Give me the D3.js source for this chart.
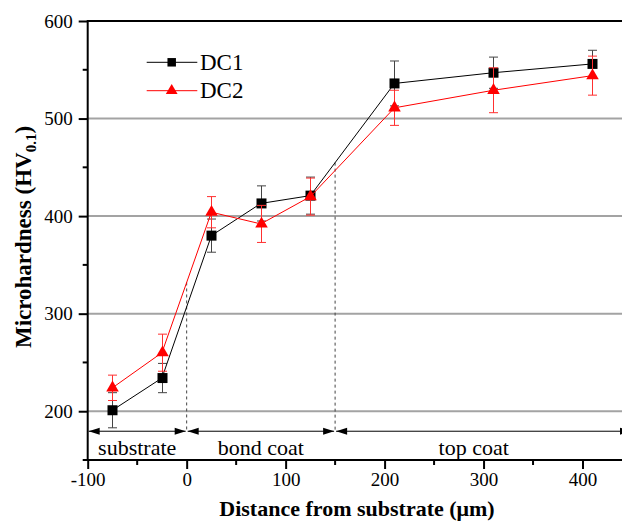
<!DOCTYPE html>
<html>
<head>
<meta charset="utf-8">
<script src="https://cdn.jsdelivr.net/npm/d3@7"></script>
<style>
  html, body { margin: 0; padding: 0; background: #fff; }
  svg { display: block; }
</style>
</head>
<body>
<div id="chart"></div>
<script>
// ---- data ----
const distances = [-75, -25, 25, 75, 125, 210, 310, 410];
const dc1Values = [201, 234, 380, 413, 421, 536, 547, 556];
const dc1Errors = [18, 15, 17, 18, 19, 23, 16, 14];
const dc2Values = [224, 260, 404, 392, 420, 511, 529, 544];
const dc2Errors = [13, 19, 16, 19, 19, 18, 23, 20];
const seriesNames = ["DC1", "DC2"];
const xTickValues = [-100, 0, 100, 200, 300, 400];
const xMinorTicks = [-50, 50, 150, 250, 350, 450];
const yTickValues = [200, 300, 400, 500, 600];
const yMinorTicks = [150, 250, 350, 450, 550];
const gridValues = [200, 300, 400, 500];
const regionNames = ["substrate", "bond coat", "top coat"];
const regionStart = [-100, 0, 150];
const regionEnd = [0, 150, 450];
const regionLabelX = [-50, 75, 290];
const boundaries = [0, 150];
const arrowRowValue = 179.5;

// ---- layout ----
const FONT = "'Liberation Serif', 'Times New Roman', Times, serif";
const W = 622, H = 522;
const x = d3.scaleLinear().domain([-100, 450]).range([87.7, 632]);
const y = d3.scaleLinear().domain([150, 600]).range([460, 21]);

const svg = d3.select("#chart").append("svg").attr("width", W).attr("height", H)
  .style("font-family", FONT);

// gridlines
svg.append("g").selectAll("line").data(gridValues).join("line")
  .attr("x1", x(-100)).attr("x2", x(450))
  .attr("y1", d => y(d)).attr("y2", d => y(d))
  .attr("stroke", "#a3a3a3").attr("stroke-width", 2);

// boundary dashed lines
const s1 = distances.map((d, i) => ({ x: d, y: dc1Values[i] }));
const s2 = distances.map((d, i) => ({ x: d, y: dc2Values[i] }));
function interp(series, xv) {
  for (let i = 0; i < series.length - 1; i++) {
    const a = series[i], b = series[i + 1];
    if (xv >= a.x && xv <= b.x) return a.y + (b.y - a.y) * (xv - a.x) / (b.x - a.x);
  }
  return null;
}
svg.append("g").selectAll("line").data(boundaries).join("line")
  .attr("x1", d => x(d)).attr("x2", d => x(d))
  .attr("y1", d => y(Math.max(interp(s1, d), interp(s2, d))))
  .attr("y2", y(arrowRowValue))
  .attr("stroke", "#444").attr("stroke-width", 1).attr("stroke-dasharray", "3,3");

// region arrows
const arrowG = svg.append("g");
const ay = y(arrowRowValue);
regionNames.forEach((name, i) => {
  const xa = x(regionStart[i]) + 1, xb = x(regionEnd[i]) - 1;
  arrowG.append("line").attr("x1", xa).attr("x2", xb).attr("y1", ay).attr("y2", ay)
    .attr("stroke", "#000").attr("stroke-width", 1);
  arrowG.append("path").attr("d", `M${xa},${ay} L${xa + 11},${ay - 3.5} L${xa + 11},${ay + 3.5} Z`).attr("fill", "#000");
  arrowG.append("path").attr("d", `M${xb},${ay} L${xb - 11},${ay - 3.5} L${xb - 11},${ay + 3.5} Z`).attr("fill", "#000");
  arrowG.append("text").attr("x", x(regionLabelX[i])).attr("y", 455)
    .attr("text-anchor", "middle").attr("font-size", 22).text(name);
});

// axes frame
const frame = svg.append("g").attr("stroke", "#000").attr("stroke-width", 2);
frame.append("line").attr("x1", x(-100)).attr("x2", x(450)).attr("y1", y(600)).attr("y2", y(600));
frame.append("line").attr("x1", x(-100)).attr("x2", x(450)).attr("y1", y(150)).attr("y2", y(150));
frame.append("line").attr("x1", x(-100)).attr("x2", x(-100)).attr("y1", y(600) - 1).attr("y2", y(150) + 1);

// x axis ticks
const xAxis = svg.append("g").attr("transform", `translate(0,${y(150)})`)
  .call(d3.axisBottom(x).tickValues(xTickValues).tickSize(9).tickPadding(4).tickFormat(d => String(d)));
xAxis.select(".domain").remove();
xAxis.selectAll(".tick line").attr("stroke-width", 2);
xAxis.selectAll(".tick text").attr("font-size", 19).attr("fill", "#000");
svg.append("g").selectAll("line").data(xMinorTicks).join("line")
  .attr("x1", d => x(d)).attr("x2", d => x(d)).attr("y1", y(150)).attr("y2", y(150) + 5)
  .attr("stroke", "#000").attr("stroke-width", 2);

// y axis ticks
const yAxis = svg.append("g").attr("transform", `translate(${x(-100)},0)`)
  .call(d3.axisLeft(y).tickValues(yTickValues).tickSize(9).tickPadding(6).tickFormat(d => String(d)));
yAxis.select(".domain").remove();
yAxis.selectAll(".tick line").attr("stroke-width", 2);
yAxis.selectAll(".tick text").attr("font-size", 19).attr("fill", "#000");
svg.append("g").selectAll("line").data(yMinorTicks).join("line")
  .attr("x1", x(-100) - 5).attr("x2", x(-100)).attr("y1", d => y(d)).attr("y2", d => y(d))
  .attr("stroke", "#000").attr("stroke-width", 2);

// axis titles
svg.append("text").attr("x", 357).attr("y", 516).attr("text-anchor", "middle")
  .attr("font-size", 22).attr("font-weight", "bold").text("Distance from substrate (\u03bcm)");
const yt = svg.append("text").attr("transform", "translate(31,237) rotate(-90)")
  .attr("text-anchor", "middle").attr("font-size", 23).attr("font-weight", "bold");
yt.append("tspan").text("Microhardness (HV");
yt.append("tspan").attr("font-size", 15).attr("dy", 5).text("0.1");
yt.append("tspan").attr("dy", -5).text(")");

// series
const series = [
  { name: seriesNames[0], values: dc1Values, errors: dc1Errors, color: "#000", err: "#444", symbol: d3.symbolSquare, size: 100 },
  { name: seriesNames[1], values: dc2Values, errors: dc2Errors, color: "#ff0000", err: "#ff3030", symbol: d3.symbolTriangle, size: 68 }
];
const line = d3.line().x(d => x(d.x)).y(d => y(d.y));
series.forEach(s => {
  const pts = distances.map((d, i) => ({ x: d, y: s.values[i], e: s.errors[i] }));
  const g = svg.append("g");
  const eb = g.append("g").attr("stroke", s.err).attr("stroke-width", 1);
  pts.forEach(p => {
    const cx = Math.round(x(p.x)) + 0.5;
    eb.append("line").attr("x1", cx).attr("x2", cx).attr("y1", y(p.y - p.e)).attr("y2", y(p.y + p.e));
    eb.append("line").attr("x1", cx - 4.5).attr("x2", cx + 4.5).attr("y1", y(p.y - p.e)).attr("y2", y(p.y - p.e));
    eb.append("line").attr("x1", cx - 4.5).attr("x2", cx + 4.5).attr("y1", y(p.y + p.e)).attr("y2", y(p.y + p.e));
  });
  g.append("path").datum(pts).attr("d", line).attr("fill", "none").attr("stroke", s.color).attr("stroke-width", 1);
  g.selectAll(".m").data(pts).join("path")
    .attr("transform", d => `translate(${Math.round(x(d.x)) + 0.5},${y(d.y)})`)
    .attr("d", d3.symbol().type(s.symbol).size(s.size)).attr("fill", s.color);
});

// legend
const legendY = [62.3, 90.7];
series.forEach((s, i) => {
  const lg = svg.append("g").attr("transform", `translate(0,${legendY[i]})`);
  lg.append("line").attr("x1", 146.7).attr("x2", 197.3).attr("y1", 0).attr("y2", 0)
    .attr("stroke", s.color).attr("stroke-width", 1);
  lg.append("path").attr("transform", "translate(171.7,0)")
    .attr("d", d3.symbol().type(s.symbol).size(i === 0 ? 72 : 60)).attr("fill", s.color);
  lg.append("text").attr("x", 200).attr("y", 7.5).attr("font-size", 23).text(s.name);
});

// force serif font on every text (axis groups set their own family)
svg.selectAll("g").attr("font-family", null);
svg.selectAll("text").attr("font-family", FONT);
</script>
</body>
</html>
